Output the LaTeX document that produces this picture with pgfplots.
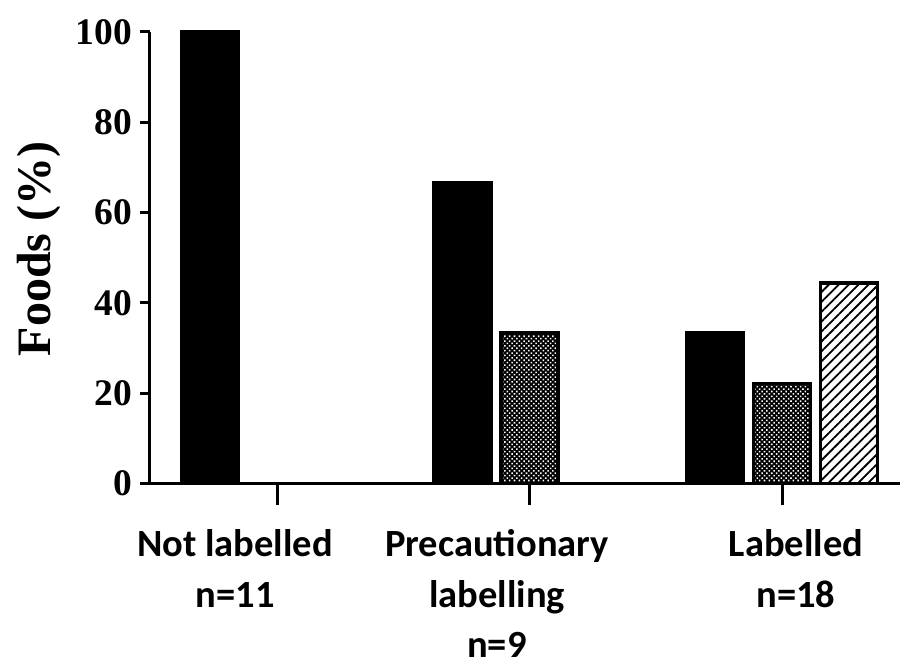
\documentclass[border=0pt]{standalone}
\usepackage{fontspec}
\setmainfont{Liberation Serif}
\newfontfamily\calibri{Carlito}
\usepackage{pgfplots}
\pgfplotsset{compat=1.18}
\usetikzlibrary{patterns.meta}

\pgfplotsset{
    barline/.style={draw=black, line width=3.5pt},
    solidbar/.style={barline, fill=black},
    dotbar/.style={barline, preaction={fill=black},
        pattern={Dots[distance=3.4pt, radius=1.1pt, angle=45]}, pattern color=white},
    hatchbar/.style={barline, preaction={fill=white},
        pattern={Lines[angle=45, distance=7pt, line width=1.8pt]}, pattern color=black},
}

\begin{document}
\begin{tikzpicture}
\begin{axis}[
    at={(0,0)}, anchor=south west,
    scale only axis,
    width=750pt, height=451.5pt,
    xmin=-0.503, xmax=2.467,
    ymin=0, ymax=100,
    clip=false,
    axis x line=bottom, axis y line=left,
    axis line style={line width=3pt, -},
    % labels sit a little off the tick marks in the original
    xtick={-0.166,0.871,2.055},
    xticklabels={{Not labelled\\n=11},{Precautionary\\labelling\\n=9},{Labelled\\n=18}},
    x tick style={draw=none},
    ytick={0,20,40,60,80,100},
    tick align=outside,
    major tick length=10pt,
    y tick style={line width=3pt, black},
    /pgf/number format/assume math mode=true,
    yticklabel style={font=\fontsize{37.5}{40}\selectfont\bfseries, inner sep=0pt, xshift=-8pt},
    xticklabel style={font=\calibri\bfseries\fontsize{38.5}{50.5}\selectfont,
        align=center, inner sep=0pt, anchor=north, yshift=-36pt},
    ylabel={Foods (\%)},
    ylabel style={font=\fontsize{48}{52}\selectfont\bfseries,
        at={(axis description cs:-0.1333,0.52)}, anchor=base},
]
% black: first bar of each group
\addplot[ybar, bar width=0.226, bar shift=-0.265, solidbar]
    coordinates {(0,100) (1,66.7) (2,33.3)};
% dotted bars
\addplot[ybar, bar width=0.226, bar shift=0, dotbar]
    coordinates {(1,33.3) (2,22.2)};
% hatched bar
\addplot[ybar, bar width=0.226, bar shift=0.265, hatchbar]
    coordinates {(2,44.4)};

% tick marks at the group centres
\draw[line width=3pt] (axis cs:0,0) -- ([yshift=-21pt]axis cs:0,0);
\draw[line width=3pt] (axis cs:1,0) -- ([yshift=-21pt]axis cs:1,0);
\draw[line width=3pt] (axis cs:2,0) -- ([yshift=-21pt]axis cs:2,0);
\end{axis}
\pgfresetboundingbox
\path[use as bounding box] (-150pt,-184.5pt) rectangle (759pt,483.5pt);
\end{tikzpicture}
\end{document}
